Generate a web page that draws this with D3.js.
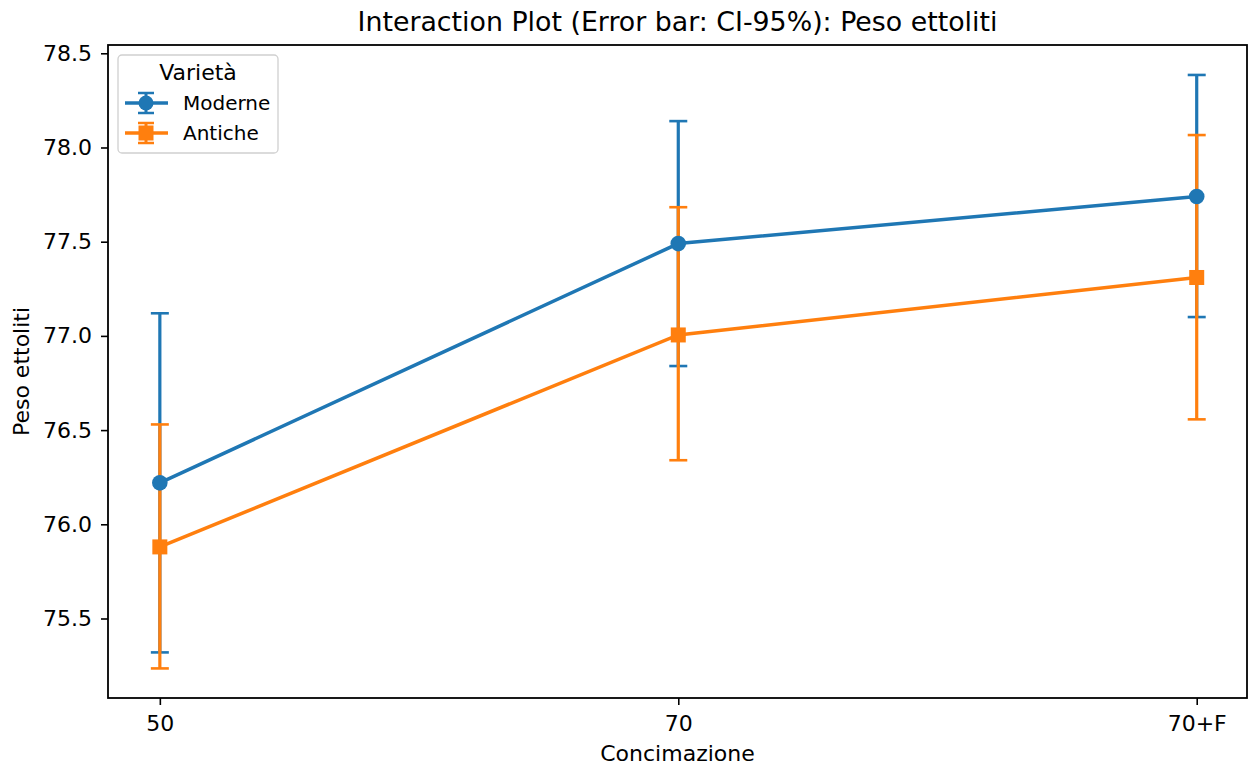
<!DOCTYPE html>
<html>
<head>
<meta charset="utf-8">
<script src="https://cdn.jsdelivr.net/npm/d3@7"></script>
<style>
  body { margin: 0; background: #fff; }
  svg { display: block; font-family: "DejaVu Sans", sans-serif; }
</style>
</head>
<body>
<svg id="chart" width="1249" height="769"></svg>
<script>
const categories = ["50", "70", "70+F"];
const seriesNames = ["Moderne", "Antiche"];
const moderneMean = [76.22, 77.49, 77.74];
const moderneLow  = [75.32, 76.84, 77.10];
const moderneHigh = [77.12, 78.14, 78.385];
const anticheMean = [75.88, 77.005, 77.31];
const anticheLow  = [75.235, 76.34, 76.557];
const anticheHigh = [76.53, 77.683, 78.066];
const yTicks = [75.5, 76.0, 76.5, 77.0, 77.5, 78.0, 78.5];
const colors = ["#1f77b4", "#ff7f0e"];

const series = [
  { name: seriesNames[0], mean: moderneMean, low: moderneLow, high: moderneHigh, color: colors[0], marker: "circle" },
  { name: seriesNames[1], mean: anticheMean, low: anticheLow, high: anticheHigh, color: colors[1], marker: "square" }
];

const W = 1249, H = 769;
const margin = { left: 108, top: 45, right: 2, bottom: 71 };
const iw = W - margin.left - margin.right, ih = H - margin.top - margin.bottom;

const svg = d3.select("#chart");
const g = svg.append("g").attr("transform", `translate(${margin.left},${margin.top})`);

const x = d3.scaleLinear().domain([-0.1, 2.097]).range([0, iw]);
const y = d3.scaleLinear().domain([75.078, 78.544]).range([ih, 0]);

// axes
const xAxis = d3.axisBottom(x).tickValues([0, 1, 2]).tickFormat(i => categories[i]).tickSize(7).tickPadding(10);
const yAxis = d3.axisLeft(y).tickValues(yTicks).tickFormat(d3.format(".1f")).tickSize(7).tickPadding(9);

const gx = g.append("g").attr("transform", `translate(0,${ih})`).call(xAxis);
const gy = g.append("g").call(yAxis);
[gx, gy].forEach(a => {
  a.select(".domain").remove();
  a.selectAll(".tick line").attr("stroke", "#000").attr("stroke-width", 1.6);
  a.selectAll(".tick text").attr("fill", "#000").style("font-size", "22px").style("font-family", "DejaVu Sans");
});

// frame
g.append("rect").attr("x", 0).attr("y", 0).attr("width", iw).attr("height", ih)
  .attr("fill", "none").attr("stroke", "#000").attr("stroke-width", 1.8);

const cap = 9;
// error bars
series.forEach(s => {
  const eb = g.append("g");
  categories.forEach((c, i) => {
    eb.append("line").attr("x1", x(i)).attr("x2", x(i)).attr("y1", y(s.low[i])).attr("y2", y(s.high[i]))
      .attr("stroke", s.color).attr("stroke-width", 3.2);
    [s.low[i], s.high[i]].forEach(v => {
      eb.append("line").attr("x1", x(i) - cap).attr("x2", x(i) + cap).attr("y1", y(v)).attr("y2", y(v))
        .attr("stroke", s.color).attr("stroke-width", 2.6);
    });
  });
});

// lines and markers
const line = d3.line().x((d, i) => x(i)).y(d => y(d));
series.forEach(s => {
  g.append("path").attr("d", line(s.mean)).attr("fill", "none").attr("stroke", s.color).attr("stroke-width", 3.5);
  s.mean.forEach((v, i) => {
    if (s.marker === "circle") {
      g.append("circle").attr("cx", x(i)).attr("cy", y(v)).attr("r", 7.8).attr("fill", s.color);
    } else {
      g.append("rect").attr("x", x(i) - 7.5).attr("y", y(v) - 7.5).attr("width", 15).attr("height", 15).attr("fill", s.color);
    }
  });
});

// title & labels
svg.append("text").attr("x", margin.left + iw / 2).attr("y", 31).attr("text-anchor", "middle")
  .style("font-size", "26.8px").attr("fill", "#000").text("Interaction Plot (Error bar: CI-95%): Peso ettoliti");
svg.append("text").attr("x", margin.left + iw / 2).attr("y", 761).attr("text-anchor", "middle")
  .style("font-size", "22px").attr("fill", "#000").text("Concimazione");
svg.append("text").attr("transform", `translate(29,${margin.top + ih / 2}) rotate(-90)`).attr("text-anchor", "middle")
  .style("font-size", "22px").attr("fill", "#000").text("Peso ettoliti");

// legend
const lg = svg.append("g").attr("transform", "translate(118,55)");
lg.append("rect").attr("x", 0).attr("y", 0).attr("width", 160).attr("height", 98).attr("rx", 4)
  .attr("fill", "#fff").attr("fill-opacity", 0.8).attr("stroke", "#d0d0d0").attr("stroke-width", 1.3);
lg.append("text").attr("x", 80).attr("y", 25).attr("text-anchor", "middle").style("font-size", "22px").attr("fill", "#000").text("Varietà");
series.forEach((s, k) => {
  const cy = 48 + k * 30;
  const hx = 28;
  lg.append("line").attr("x1", 7).attr("x2", 50).attr("y1", cy).attr("y2", cy).attr("stroke", s.color).attr("stroke-width", 3.5);
  lg.append("line").attr("x1", hx).attr("x2", hx).attr("y1", cy - 10).attr("y2", cy + 10).attr("stroke", s.color).attr("stroke-width", 3);
  [cy - 10, cy + 10].forEach(yy => lg.append("line").attr("x1", hx - 8).attr("x2", hx + 8).attr("y1", yy).attr("y2", yy).attr("stroke", s.color).attr("stroke-width", 2.5));
  if (s.marker === "circle") lg.append("circle").attr("cx", hx).attr("cy", cy).attr("r", 7.5).attr("fill", s.color);
  else lg.append("rect").attr("x", hx - 7.5).attr("y", cy - 7.5).attr("width", 15).attr("height", 15).attr("fill", s.color);
  lg.append("text").attr("x", 65).attr("y", cy + 7).style("font-size", "20px").attr("fill", "#000").text(s.name);
});
</script>
</body>
</html>
